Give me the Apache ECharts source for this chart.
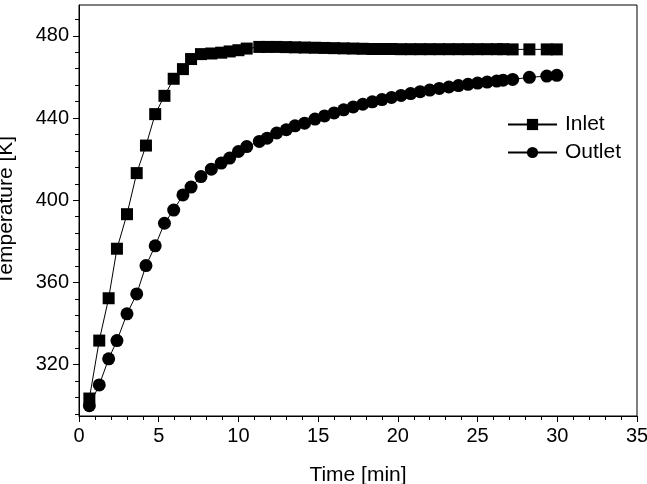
<!DOCTYPE html>
<html>
<head>
<meta charset="utf-8">
<script src="https://cdn.jsdelivr.net/npm/echarts@6/dist/echarts.min.js"></script>
<style>
  html, body { margin: 0; padding: 0; background: #fff; }
  #chart { width: 647px; height: 484px; }
</style>
</head>
<body>
<div id="chart"></div>
<script>
// time stamps [min], shared by both curves
var timeMin = [0.65, 1.27, 1.86, 2.38, 3.01, 3.62, 4.20, 4.78, 5.36, 5.94,
  6.52, 7.03, 7.65, 8.30, 8.92, 9.45, 10.0, 10.52, 11.31, 11.80,
  12.4, 13.0, 13.55, 14.15, 14.8, 15.4, 16.0, 16.6, 17.2, 17.8,
  18.4, 19.0, 19.6, 20.2, 20.8, 21.4, 22.0, 22.6, 23.2, 23.8,
  24.4, 25.0, 25.6, 26.2, 26.6, 27.2, 28.25, 29.34, 29.97];

// inlet temperature [K]
var inletT = [303.5, 331.7, 352.3, 376.4, 393.2, 413.2, 426.6, 441.9, 450.8, 459.1,
  463.8, 468.7, 471.1, 471.4, 471.8, 472.4, 473.0, 473.8, 474.6, 474.6,
  474.6, 474.5, 474.4, 474.3, 474.2, 474.1, 474.0, 473.9, 473.8, 473.7,
  473.6, 473.6, 473.6, 473.5, 473.5, 473.5, 473.5, 473.5, 473.5, 473.5,
  473.5, 473.5, 473.5, 473.5, 473.5, 473.4, 473.4, 473.4, 473.4];

// outlet temperature [K]
var outletT = [300.0, 310.1, 322.8, 331.7, 344.7, 354.4, 368.2, 377.8, 388.8, 395.2,
  402.6, 406.4, 411.5, 415.1, 418.1, 420.5, 423.7, 426.1, 428.6, 430.2,
  432.7, 434.3, 436.2, 437.5, 439.5, 441.0, 442.5, 444.0, 445.4, 446.7,
  447.9, 449.0, 450.0, 451.0, 451.9, 452.8, 453.6, 454.4, 455.1, 455.8,
  456.4, 457.0, 457.5, 458.0, 458.4, 458.8, 459.8, 460.4, 460.8];

var yMajor = [320, 360, 400, 440, 480];
var yMinor = [296, 304, 312, 328, 336, 344, 352, 368, 376, 384, 392,
  408, 416, 424, 432, 448, 456, 464, 472, 488];

function pairs(xs, ys) {
    var out = [];
    for (var i = 0; i < xs.length; i++) {
        out.push([xs[i], ys[i]]);
    }
    return out;
}

var font = 'Liberation Sans, Arial, sans-serif';
var myChart = echarts.init(document.getElementById('chart'), null, { renderer: 'canvas' });

var option = {
    animation: false,
    backgroundColor: '#fff',
    grid: {
        left: 79, right: 10, top: 5, bottom: 68,
        outerBoundsMode: 'none',
        containLabel: false,
        show: true, borderColor: '#000', borderWidth: 1
    },
    legend: {
        orient: 'vertical',
        left: 507, top: 114,
        padding: 0,
        itemWidth: 49, itemHeight: 14, itemGap: 7,
        textStyle: { fontFamily: font, fontSize: 21, color: '#000', padding: [0, 0, 0, 3] },
        data: ['Inlet', 'Outlet']
    },
    xAxis: {
        type: 'value',
        min: 0, max: 35, interval: 5,
        name: 'Time [min]',
        nameLocation: 'middle',
        nameGap: 49,
        nameTextStyle: { fontFamily: font, fontSize: 21, color: '#000' },
        splitLine: { show: false },
        axisLine: { lineStyle: { color: '#000', width: 1 } },
        axisTick: { inside: false, length: 6, lineStyle: { color: '#000' } },
        minorTick: { show: true, splitNumber: 5, length: 4, lineStyle: { color: '#000' } },
        axisLabel: { fontFamily: font, fontSize: 20, color: '#000', margin: 10 }
    },
    yAxis: [{
        type: 'value',
        min: 295, max: 495,
        name: 'Temperature [K]',
        nameLocation: 'middle',
        nameGap: 62,
        nameTextStyle: { fontFamily: font, fontSize: 21, color: '#000' },
        splitLine: { show: false },
        axisLine: { lineStyle: { color: '#000', width: 1 } },
        axisTick: { length: 6, customValues: yMajor, lineStyle: { color: '#000' } },
        axisLabel: { fontFamily: font, fontSize: 20, color: '#000', margin: 10, customValues: yMajor }
    }, {
        type: 'value',
        min: 295, max: 495,
        position: 'left',
        splitLine: { show: false },
        axisLine: { show: false },
        axisTick: { length: 4, customValues: yMinor, lineStyle: { color: '#000' } },
        axisLabel: { show: false }
    }],
    series: [{
        name: 'Inlet',
        type: 'line',
        data: pairs(timeMin, inletT),
        symbol: 'rect',
        symbolSize: 12,
        itemStyle: { color: '#000' },
        lineStyle: { color: '#000', width: 1 }
    }, {
        name: 'Outlet',
        type: 'line',
        data: pairs(timeMin, outletT),
        symbol: 'circle',
        symbolSize: 13,
        itemStyle: { color: '#000' },
        lineStyle: { color: '#000', width: 1 }
    }]
};

myChart.setOption(option);
</script>
</body>
</html>
